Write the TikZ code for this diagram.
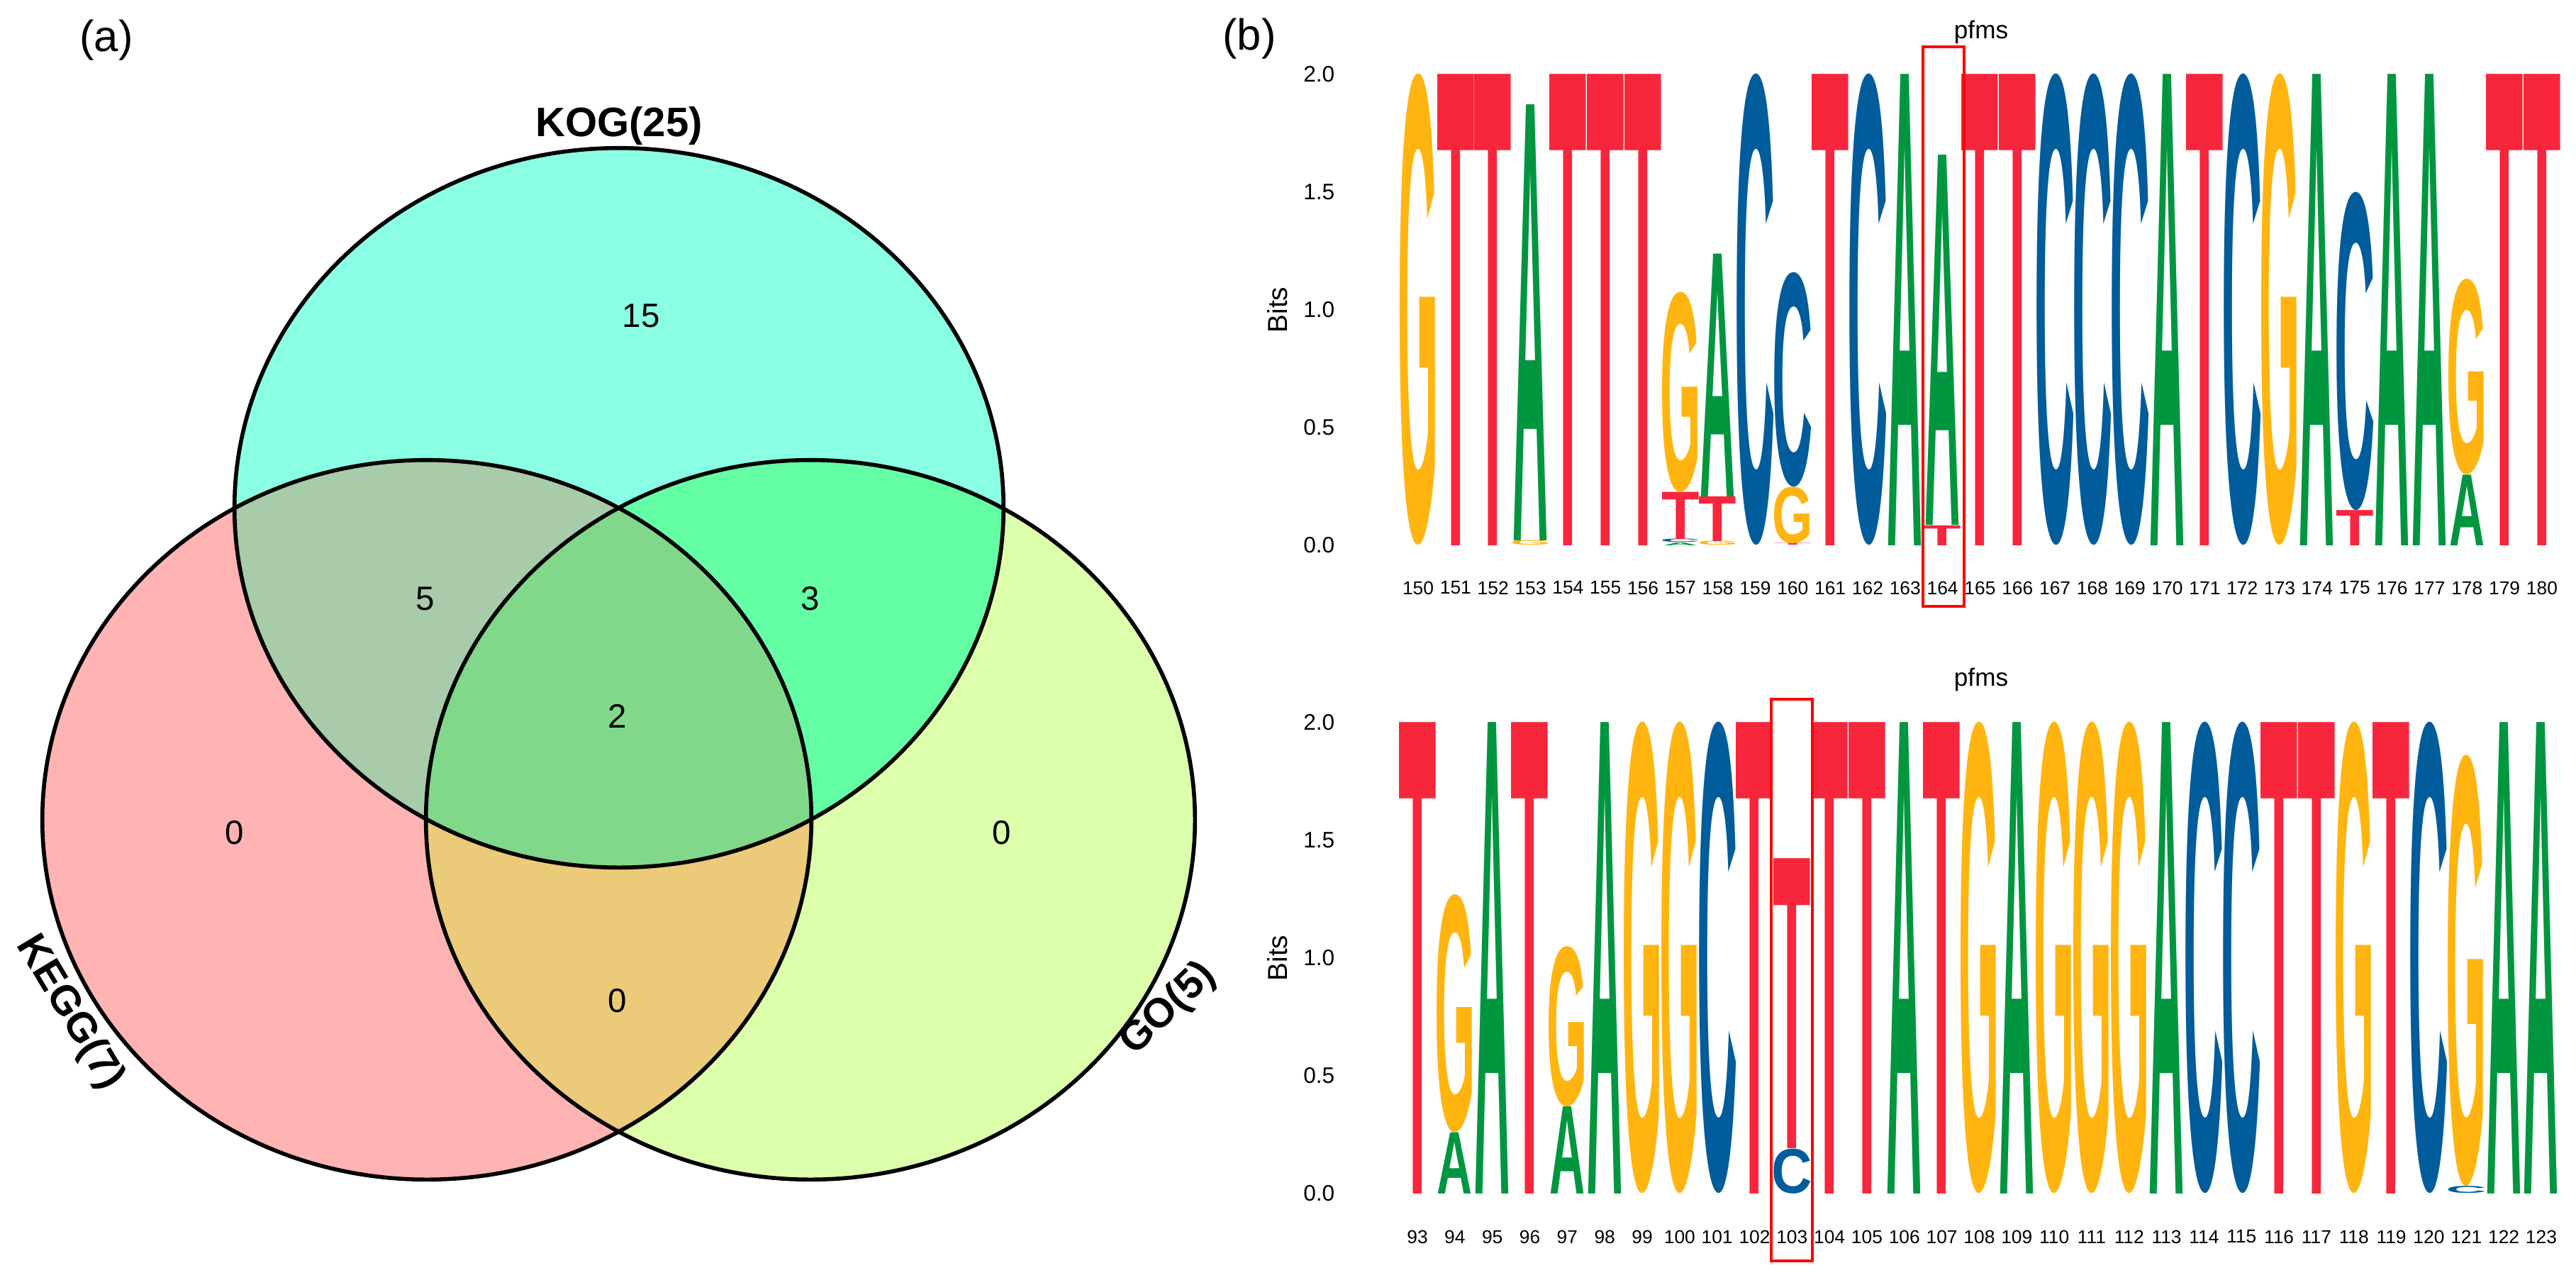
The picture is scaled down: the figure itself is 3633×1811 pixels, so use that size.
\documentclass[tikz,border=0pt]{standalone}
\usepackage{fontspec}
\setmainfont{Liberation Sans}
\usepackage{graphicx}
\usepackage{tikz}

\definecolor{kogc}{HTML}{8AFFE4}
\definecolor{keggc}{HTML}{FFB3B3}
\definecolor{goc}{HTML}{DCFFAB}
\definecolor{kogkegg}{HTML}{A8CBAA}
\definecolor{kogo}{HTML}{64FFA5}
\definecolor{keggo}{HTML}{EBCA7A}
\definecolor{allc}{HTML}{82D88A}
\definecolor{baseA}{HTML}{009640}
\definecolor{baseC}{HTML}{005C9B}
\definecolor{baseG}{HTML}{FFB40F}
\definecolor{baseT}{HTML}{F8263C}

\tikzstyle{setlabel} = [font=\fontsize{16.5}{18}\selectfont\bfseries, inner sep=0]
\tikzstyle{tally} = [font=\fontsize{13.5}{15}\selectfont, inner sep=0]
\tikzstyle{panel} = [font=\fontsize{17.5}{19}\selectfont, inner sep=0]
\tikzstyle{ring} = [draw=black, line width=1.6pt]
\tikzstyle{letter} = [inner sep=0, outer sep=0, anchor=south]
\tikzstyle{ticklabel} = [font=\fontsize{9}{11}\selectfont, inner sep=0, anchor=east]
\tikzstyle{poslabel} = [font=\fontsize{7.5}{9}\selectfont, inner sep=0]
\tikzstyle{logotitle} = [font=\fontsize{10}{12}\selectfont, inner sep=0]
\tikzstyle{hilite} = [draw=red, line width=1pt]
\tikzset{vr/.style={x radius=5.42cm, y radius=5.07cm}}

% ink widths of the stretched letters
\def\lwA{0.50cm}
\def\lwC{0.573cm}
\def\lwG{0.572cm}
\def\lwT{0.535cm}

% one stack of letters, bottom to top: name, x, baseline, letter/bits list
\newcommand{\logocol}[4]{%
  \xdef\stackbits{0}%
  \foreach \ltr/\bits [count=\k] in #4 {
    \pgfmathsetmacro{\hcm}{\bits*3.32}
    \node[letter, text=base\ltr] (#1-\k) at (#2, #3-\stackbits*332)
      {\resizebox*{\csname lw\ltr\endcsname}{\hcm cm}{\bfseries\ltr}};
    \pgfmathsetmacro{\newbits}{\stackbits+\bits}
    \xdef\stackbits{\newbits}
  }}

\begin{document}
\begin{tikzpicture}[x=0.01cm, y=-0.01cm]
        \useasboundingbox (0,0) rectangle (3633,1811);

        % Venn
        \coordinate (kog) at (873,716);
        \coordinate (kegg) at (602,1156);
        \coordinate (go) at (1143,1156);

        \fill[kogc] (kog) ellipse [vr];
        \fill[keggc] (kegg) ellipse [vr];
        \fill[goc] (go) ellipse [vr];
        \begin{scope}
            \clip (kog) ellipse [vr];
            \fill[kogkegg] (kegg) ellipse [vr];
            \fill[kogo] (go) ellipse [vr];
        \end{scope}
        \begin{scope}
            \clip (kegg) ellipse [vr];
            \fill[keggo] (go) ellipse [vr];
            \clip (kog) ellipse [vr];
            \fill[allc] (go) ellipse [vr];
        \end{scope}
        \draw[ring] (kog) ellipse [vr];
        \draw[ring] (kegg) ellipse [vr];
        \draw[ring] (go) ellipse [vr];

        \node (kogname) [setlabel] at (873,177) {KOG(25)};
        \node (keggname) [setlabel, rotate=-59] at (98,1428) {KEGG(7)};
        \node (goname) [setlabel, rotate=44] at (1648,1423) {GO(5)};

        \node (n15) [tally] at (904,445) {15};
        \node (n5) [tally] at (600,844) {5};
        \node (n3) [tally] at (1143,844) {3};
        \node (n2) [tally] at (871,1010) {2};
        \node (n0a) [tally] at (331,1174) {0};
        \node (n0b) [tally] at (1413,1174) {0};
        \node (n0c) [tally] at (871,1411) {0};

        \node (pa) [panel] at (150,57) {(a)};
        \node (pb) [panel] at (1762,55) {(b)};

        % Logos
        \foreach \v in {0.0,0.5,1.0,1.5,2.0} {
            \node (ticktop\v) [ticklabel] at (1883,769-\v*332) {\v};
            \node (tickbot\v) [ticklabel] at (1883,1683-\v*332) {\v};
        }
        \node (bitstop) [logotitle, font=\fontsize{11}{13}\selectfont, rotate=90] at (1802,437) {Bits};
        \node (bitsbot) [logotitle, font=\fontsize{11}{13}\selectfont, rotate=90] at (1802,1351) {Bits};
        \node (pfmstop) [logotitle] at (2794,45) {pfms};
        \node (pfmsbot) [logotitle] at (2794,958) {pfms};

        \foreach \p/\stk [count=\i from 0] in {150/{G/2}, 151/{T/2}, 152/{T/2},
            153/{G/0.02,A/1.85}, 154/{T/2}, 155/{T/2}, 156/{T/2},
            157/{A/0.012,C/0.014,T/0.2,G/0.85}, 158/{G/0.017,T/0.19,A/1.03},
            159/{C/2}, 160/{T/0.008,G/0.24,C/0.91}, 161/{T/2}, 162/{C/2},
            163/{A/2}, 164/{T/0.085,A/1.57}, 165/{T/2}, 166/{T/2}, 167/{C/2},
            168/{C/2}, 169/{C/2}, 170/{A/2}, 171/{T/2}, 172/{C/2}, 173/{G/2},
            174/{A/2}, 175/{T/0.15,C/1.35}, 176/{A/2}, 177/{A/2},
            178/{A/0.3,G/0.83}, 179/{T/2}, 180/{T/2}} {
            \logocol{top\p}{2000+\i*52.83}{769}{\stk}
            \node (postop\p) [poslabel] at (2000+\i*52.83,829) {\p};
        }

        \foreach \p/\stk [count=\i from 0] in {93/{T/2}, 94/{A/0.26,G/1.01},
            95/{A/2}, 96/{T/2}, 97/{A/0.37,G/0.68}, 98/{A/2}, 99/{G/2},
            100/{G/2}, 101/{C/2}, 102/{T/2}, 103/{C/0.19,T/1.23}, 104/{T/2},
            105/{T/2}, 106/{A/2}, 107/{T/2}, 108/{G/2}, 109/{A/2}, 110/{G/2},
            111/{G/2}, 112/{G/2}, 113/{A/2}, 114/{C/2}, 115/{C/2}, 116/{T/2},
            117/{T/2}, 118/{G/2}, 119/{T/2}, 120/{C/2}, 121/{C/0.03,G/1.83},
            122/{A/2}, 123/{A/2}} {
            \logocol{bot\p}{1999+\i*52.83}{1683}{\stk}
            \node (posbot\p) [poslabel] at (1999+\i*52.83,1744) {\p};
        }

        % Highlighted columns
        \draw[hilite] (2712,66) rectangle (2770,855);
        \draw[hilite] (2498,986) rectangle (2556,1778);

    \end{tikzpicture}
\end{document}
